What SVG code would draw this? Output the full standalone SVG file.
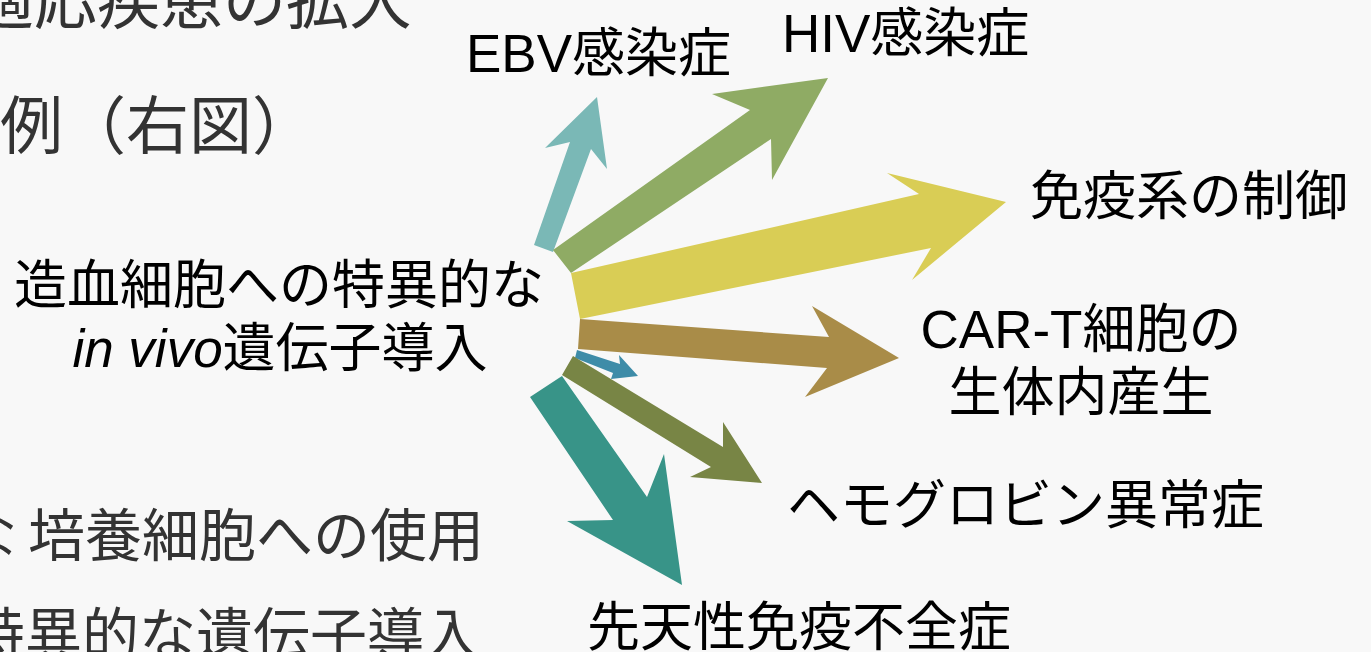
<svg xmlns="http://www.w3.org/2000/svg" width="1371" height="652" viewBox="0 0 1371 652">
<style>
.lbl{font-family:"Liberation Sans","Noto Sans CJK JP",sans-serif;font-size:53px;fill:#000}
.bg{font-family:"Liberation Sans","Noto Sans CJK JP",sans-serif;fill:#333}
.it{font-style:italic}
</style>
<rect width="1371" height="652" fill="#f8f8f8"/>
<g id="slide-text">
<text class="bg" x="-29" y="23" font-size="63">適応疾患の拡大</text>
<text class="bg" x="0" y="148" font-size="63">例（右図）</text>
<text class="bg" y="556" font-size="57"><tspan x="-154">様々な</tspan><tspan x="28">培養細胞への使用</tspan></text>
<text class="bg" x="-146" y="655" font-size="57">細胞特異的な遺伝子導入</text>
</g>
<g id="connectors">
<polygon id="a-ebv" fill="#7ab8b6" points="534,245 570,142 545,148 597,97 607,169 591,149 553,252"/>
<polygon id="a-hiv" fill="#8fab64" points="553,250 750,110 712,94 828,78 772,180 771,139 571,273"/>
<polygon id="a-imm" fill="#d9cd55" points="571,273 919,194 887,173 1006,202 912,280 931,248 580,319"/>
<polygon id="a-car" fill="#a98c48" points="580,319 829,337 812,306 899,358 805,397 827,368 578,349"/>
<polygon id="a-small" fill="#3e8ca8" points="577,350 620,364 619,355 638,376 611,379 613,373 575,358"/>
<polygon id="a-hb" fill="#788545" points="573,356 723,447 723,422 762,483 690,477 711,467 562,375"/>
<polygon id="a-pid" fill="#389488" points="562,376 647,497 664,454 682,585 567,521 613,520 530,397"/>
</g>
<g id="n-center">
<text class="lbl" x="279" y="304" text-anchor="middle">造血細胞への特異的な</text>
<text class="lbl" x="280" y="367" text-anchor="middle"><tspan class="it">in vivo</tspan>遺伝子導入</text>
</g>
<g id="n-ebv"><text class="lbl" x="466" y="72">EBV感染症</text></g>
<g id="n-hiv"><text class="lbl" x="782" y="52">HIV感染症</text></g>
<g id="n-imm"><text class="lbl" x="1030" y="215">免疫系の制御</text></g>
<g id="n-car">
<text class="lbl" x="1081" y="348" text-anchor="middle">CAR-T細胞の</text>
<text class="lbl" x="1081" y="411" text-anchor="middle">生体内産生</text>
</g>
<g id="n-hb"><text class="lbl" x="787" y="524">ヘモグロビン異常症</text></g>
<g id="n-pid"><text class="lbl" x="587" y="646">先天性免疫不全症</text></g>
</svg>
